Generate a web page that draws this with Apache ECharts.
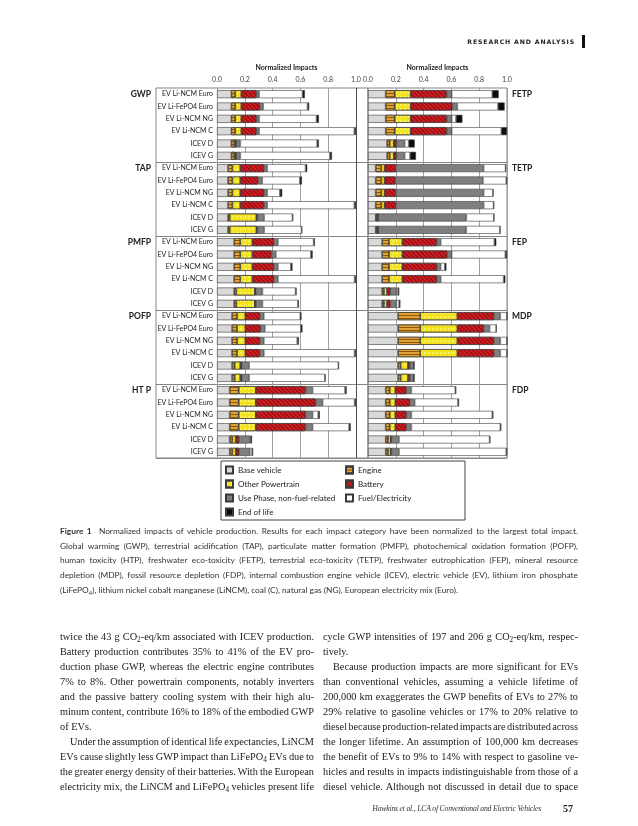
<!DOCTYPE html>
<html><head><meta charset="utf-8">
<script src="https://cdn.jsdelivr.net/npm/echarts/dist/echarts.min.js"></script>
<style>
body{margin:0;background:#fff}
#page{position:relative;width:638px;height:826px;overflow:hidden;background:#fff}
#chart{position:absolute;left:0;top:0;width:638px;height:826px}
.hdr{position:absolute;right:63px;top:37px;font-family:'DejaVu Sans';font-weight:bold;font-size:6.2px;letter-spacing:0.85px;color:#222;line-height:10px}
.hbar{position:absolute;left:582px;top:35px;width:3px;height:13px;background:#111}
.cap{position:absolute;left:60px;top:524px;width:518px;font-family:Lato;font-size:8.35px;line-height:14.7px;color:#333}
.cap div{text-align:justify;text-align-last:justify;word-spacing:-2px}
.col div{text-align:justify;text-align-last:justify;word-spacing:-2px}
.cap div.l,.col div.l{text-align:left;text-align-last:left;word-spacing:0}
.col{position:absolute;top:628.5px;font-family:'Liberation Serif';font-size:10.3px;line-height:15.1px;color:#1a1a1a}
.ind{text-indent:10px}
.foot{position:absolute;top:803px;right:97px;font-family:'Liberation Serif';font-style:italic;font-size:7.7px;letter-spacing:-0.2px;color:#333;line-height:12px;white-space:nowrap}
.pg{position:absolute;top:803px;left:563px;font-family:'Liberation Serif';font-weight:bold;font-size:10px;color:#222;line-height:12px}
sub{font-size:70%;vertical-align:-2px;line-height:0}
</style>
</head><body>
<div id="page">
<div id="chart"></div>
<div class="hdr">RESEARCH AND ANALYSIS</div>
<div class="hbar"></div>
<div class="cap">
<div><b>Figure 1</b>&nbsp;&nbsp;Normalized impacts of vehicle production. Results for each impact category have been normalized to the largest total impact.</div>
<div>Global warming (GWP), terrestrial acidification (TAP), particulate matter formation (PMFP), photochemical oxidation formation (POFP),</div>
<div>human toxicity (HTP), freshwater eco-toxicity (FETP), terrestrial eco-toxicity (TETP), freshwater eutrophication (FEP), mineral resource</div>
<div>depletion (MDP), fossil resource depletion (FDP), internal combustion engine vehicle (ICEV), electric vehicle (EV), lithium iron phosphate</div>
<div class="l">(LiFePO<sub>4</sub>), lithium nickel cobalt manganese (LiNCM), coal (C), natural gas (NG), European electricity mix (Euro).</div>
</div>
<div class="col" style="left:60px;width:254px">
<div>twice the 43 g CO<sub>2</sub>-eq/km associated with ICEV production.</div>
<div>Battery production contributes 35% to 41% of the EV pro-</div>
<div>duction phase GWP, whereas the electric engine contributes</div>
<div>7% to 8%. Other powertrain components, notably inverters</div>
<div>and the passive battery cooling system with their high alu-</div>
<div>minum content, contribute 16% to 18% of the embodied GWP</div>
<div class="l">of EVs.</div>
<div class="ind">Under the assumption of identical life expectancies, LiNCM</div>
<div>EVs cause slightly less GWP impact than LiFePO<sub>4</sub> EVs due to</div>
<div>the greater energy density of their batteries. With the European</div>
<div>electricity mix, the LiNCM and LiFePO<sub>4</sub> vehicles present life</div>
</div>
<div class="col" style="left:323px;width:255px">
<div>cycle GWP intensities of 197 and 206 g CO<sub>2</sub>-eq/km, respec-</div>
<div class="l">tively.</div>
<div class="ind">Because production impacts are more significant for EVs</div>
<div>than conventional vehicles, assuming a vehicle lifetime of</div>
<div>200,000 km exaggerates the GWP benefits of EVs to 27% to</div>
<div>29% relative to gasoline vehicles or 17% to 20% relative to</div>
<div style="word-spacing:-2.6px">diesel because production-related impacts are distributed across</div>
<div>the longer lifetime. An assumption of 100,000 km decreases</div>
<div>the benefit of EVs to 9% to 14% with respect to gasoline ve-</div>
<div>hicles and results in impacts indistinguishable from those of a</div>
<div>diesel vehicle. Although not discussed in detail due to space</div>
</div>
<div class="foot">Hawkins et al., LCA of Conventional and Electric Vehicles</div>
<div class="pg">57</div>
</div>
<script>
// ---- data ----
const vehicles = ['EV Li-NCM Euro','EV Li-FePO4 Euro','EV Li-NCM NG','EV Li-NCM C','ICEV D','ICEV G'];
const leftGroups = ['GWP','TAP','PMFP','POFP','HT P'];
const rightGroups = ['FETP','TETP','FEP','MDP','FDP'];
const components = ['Base vehicle','Engine','Other Powertrain','Battery','Use Phase, non-fuel-related','Fuel/Electricity','End of life'];
// each row: [base, engine, other powertrain, battery, use phase, fuel/electricity, end of life]
const GWP = [
  [0.103,0.029,0.043,0.109,0.019,0.312,0.017],
  [0.103,0.029,0.043,0.133,0.024,0.319,0.012],
  [0.103,0.029,0.043,0.109,0.019,0.413,0.017],
  [0.103,0.029,0.043,0.109,0.019,0.685,0.012],
  [0.103,0.022,0.010,0.003,0.030,0.552,0.013],
  [0.103,0.022,0.010,0.003,0.030,0.644,0.015]];
const TAP = [
  [0.079,0.032,0.057,0.171,0.022,0.276,0.012],
  [0.079,0.032,0.057,0.128,0.029,0.271,0.015],
  [0.079,0.032,0.057,0.171,0.022,0.091,0.017],
  [0.079,0.032,0.057,0.171,0.022,0.627,0.012],
  [0.079,0.012,0.193,0.007,0.048,0.204,0.005],
  [0.079,0.012,0.193,0.007,0.048,0.269,0.005]];
const PMFP = [
  [0.123,0.045,0.087,0.154,0.029,0.257,0.009],
  [0.123,0.045,0.087,0.137,0.031,0.252,0.013],
  [0.123,0.045,0.087,0.154,0.029,0.093,0.012],
  [0.123,0.045,0.087,0.154,0.029,0.552,0.010],
  [0.123,0.016,0.133,0.007,0.048,0.238,0.007],
  [0.123,0.016,0.133,0.007,0.048,0.255,0.007]];
const POFP = [
  [0.108,0.036,0.060,0.104,0.029,0.262,0.009],
  [0.108,0.036,0.060,0.109,0.031,0.259,0.012],
  [0.108,0.036,0.060,0.104,0.029,0.240,0.012],
  [0.108,0.036,0.060,0.104,0.029,0.653,0.010],
  [0.108,0.019,0.041,0.010,0.053,0.642,0.004],
  [0.108,0.019,0.041,0.010,0.053,0.545,0.005]];
const HTP = [
  [0.091,0.065,0.123,0.358,0.051,0.233,0.012],
  [0.091,0.065,0.123,0.430,0.051,0.230,0.010],
  [0.091,0.065,0.123,0.358,0.051,0.040,0.012],
  [0.091,0.065,0.123,0.358,0.051,0.262,0.012],
  [0.091,0.020,0.024,0.024,0.077,0.007,0.009],
  [0.091,0.020,0.024,0.024,0.077,0.016,0.008]];
const FETP = [
  [0.127,0.065,0.115,0.259,0.036,0.292,0.046],
  [0.127,0.065,0.115,0.300,0.036,0.292,0.048],
  [0.127,0.065,0.115,0.259,0.036,0.031,0.046],
  [0.127,0.065,0.115,0.259,0.036,0.357,0.041],
  [0.137,0.019,0.029,0.019,0.060,0.029,0.043],
  [0.137,0.019,0.029,0.019,0.060,0.038,0.043]];
const TETP = [
  [0.055,0.041,0.024,0.079,0.633,0.158,0.002],
  [0.055,0.041,0.024,0.077,0.630,0.168,0.005],
  [0.055,0.041,0.024,0.079,0.633,0.067,0.002],
  [0.055,0.041,0.024,0.079,0.633,0.072,0.002],
  [0.055,0.007,0.010,0.002,0.633,0.199,0.001],
  [0.055,0.007,0.010,0.002,0.633,0.243,0.001]];
const FEP = [
  [0.101,0.050,0.096,0.249,0.027,0.386,0.014],
  [0.101,0.050,0.096,0.324,0.031,0.386,0.012],
  [0.101,0.050,0.096,0.249,0.027,0.029,0.012],
  [0.101,0.050,0.096,0.249,0.027,0.453,0.012],
  [0.101,0.014,0.022,0.024,0.043,0.012,0.009],
  [0.101,0.014,0.022,0.024,0.043,0.019,0.010]];
const MDP = [
  [0.216,0.160,0.267,0.263,0.046,0.048,0],
  [0.216,0.160,0.267,0.189,0.043,0.048,0],
  [0.216,0.160,0.267,0.263,0.046,0.048,0],
  [0.216,0.160,0.267,0.263,0.046,0.048,0],
  [0.216,0.019,0.053,0.012,0.029,0.002,0],
  [0.216,0.019,0.053,0.012,0.029,0.002,0]];
const FDP = [
  [0.127,0.029,0.041,0.079,0.036,0.316,0.007],
  [0.127,0.029,0.041,0.103,0.036,0.311,0.008],
  [0.127,0.029,0.041,0.079,0.036,0.582,0.008],
  [0.127,0.029,0.041,0.079,0.036,0.640,0.007],
  [0.127,0.017,0.019,0.005,0.055,0.652,0.005],
  [0.127,0.017,0.019,0.005,0.055,0.772,0.005]];
const leftData = [GWP, TAP, PMFP, POFP, HTP];
const rightData = [FETP, TETP, FEP, MDP, FDP];

// ---- styles ----
const FONT = 'Lato';
const fills = ['#d9d9d9','#e3a236','#f3e31c','#cf1e24','#7f7f7f','#ffffff','#0d0d0d'];
const decals = [
  null,
  {symbol:'rect', symbolSize:1, dashArrayX:[[6,0]], dashArrayY:[1,1.6], rotation:0, color:'rgba(125,75,0,0.85)'},
  {symbol:'circle', symbolSize:0.75, dashArrayX:[[1.6,1.4]], dashArrayY:[1.5,1.5], rotation:0, color:'rgba(255,255,225,0.95)'},
  {symbol:'rect', symbolSize:1, dashArrayX:[[6,0]], dashArrayY:[0.9,1.4], rotation:Math.PI/4, color:'rgba(110,0,0,0.7)'},
  null, null, null];

const leftRows = [], rightRows = [];
leftGroups.forEach(g => vehicles.forEach(v => leftRows.push(g + '|' + v)));
rightGroups.forEach(g => vehicles.forEach(v => rightRows.push(g + '|' + v)));

const sepInterval = (i) => i % 6 === 0 && i > 0;
const frameColor = '#858585';

const series = [];
components.forEach((name, k) => {
  const style = {color: fills[k], borderColor: '#3a3a3a', borderWidth: 0.6};
  if (decals[k]) style.decal = decals[k];
  series.push({name, type:'bar', stack:'L', xAxisIndex:1, yAxisIndex:1, barWidth:8,
    itemStyle: style, data: leftData.flatMap(g => g.map(r => r[k]))});
  series.push({name, type:'bar', stack:'R', xAxisIndex:2, yAxisIndex:2, barWidth:8,
    itemStyle: style, data: rightData.flatMap(g => g.map(r => r[k]))});
});

const valueAxis = (gi, lastColor) => ({
  gridIndex: gi, type:'value', position:'top', min:0, max:1, interval:0.2,
  name:'Normalized Impacts', nameLocation:'middle', nameGap:17,
  nameTextStyle:{fontFamily:FONT, fontWeight:'bold', fontSize:7, color:'#222'},
  axisLine:{show:false}, axisTick:{show:false},
  axisLabel:{fontFamily:FONT, fontSize:7, margin:5, color:'#444', formatter: v => v.toFixed(1)},
  splitLine:{show:true, lineStyle:{width:1, color:['#a0a0a0','#a0a0a0','#a0a0a0','#a0a0a0','#a0a0a0', lastColor]}}
});

const chart = echarts.init(document.getElementById('chart'), null, {renderer:'canvas'});
chart.setOption({
  animation:false,
  textStyle:{fontFamily:FONT},
  grid:[
    {left:156, top:88, width:212, height:370, show:true, borderColor:frameColor, borderWidth:1, containLabel:false, outerBoundsMode:'none'},
    {left:217, top:88, width:139, height:370, containLabel:false, outerBoundsMode:'none'},
    {left:368, top:88, width:139, height:370, show:true, borderColor:frameColor, borderWidth:1, containLabel:false, outerBoundsMode:'none'}
  ],
  xAxis:[
    {gridIndex:0, type:'value', show:false, min:0, max:1},
    valueAxis(1, '#505050'),
    valueAxis(2, '#a0a0a0')
  ],
  yAxis:[
    {gridIndex:0, type:'category', data:leftRows, inverse:true,
     axisLine:{show:false}, axisTick:{show:false},
     axisLabel:{interval:0, margin:5, fontFamily:FONT, fontSize:8.5, fontWeight:'bold', color:'#222',
       formatter:(v, i) => i % 6 === 0 ? leftGroups[i / 6] : ''},
     splitLine:{show:true, interval:sepInterval, lineStyle:{color:frameColor, width:1}}},
    {gridIndex:1, type:'category', data:leftRows, inverse:true,
     axisLine:{show:false}, axisTick:{show:false}, splitLine:{show:false},
     axisLabel:{interval:0, margin:4, fontFamily:FONT, fontSize:7, color:'#222',
       formatter: v => v.split('|')[1]}},
    {gridIndex:2, type:'category', data:rightRows, inverse:true, position:'right',
     axisLine:{show:false}, axisTick:{show:false},
     axisLabel:{interval:0, margin:5, fontFamily:FONT, fontSize:8.5, fontWeight:'bold', color:'#222',
       formatter:(v, i) => i % 6 === 0 ? rightGroups[i / 6] : ''},
     splitLine:{show:true, interval:sepInterval, lineStyle:{color:frameColor, width:1}}}
  ],
  legend:{
    data: components, left:221, top:461, width:236, orient:'horizontal',
    padding:[4,4,3,4], itemGap:4, itemWidth:7, itemHeight:7, icon:'rect',
    borderColor:'#404040', borderWidth:1, borderRadius:0, backgroundColor:'#fff',
    textStyle:{fontFamily:FONT, fontSize:8, color:'#222', width:103, lineHeight:10, overflow:'truncate'},
    selectedMode:false
  },
  series
});
</script>
</body></html>
